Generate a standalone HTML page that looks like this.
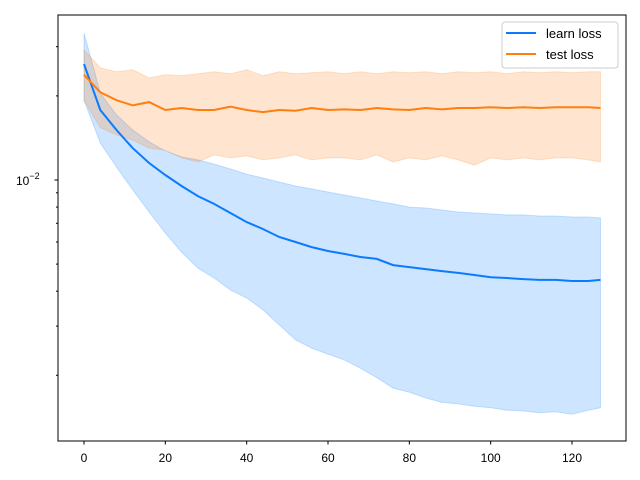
<!DOCTYPE html>
<html><head><meta charset="utf-8"><style>
body{margin:0;background:#fff}
svg{display:block;font-family:"Liberation Sans","DejaVu Sans",sans-serif}
</style></head><body>
<svg id="chart" width="640" height="480" viewBox="0 0 640 480">
<rect x="0" y="0" width="640" height="480" fill="#fff"/>
<g id="plot"></g>
<rect x="58" y="15" width="568" height="426" fill="none" stroke="#000" stroke-width="1"/>
<g id="axes"></g>
<g>
<rect x="502" y="22" width="116" height="46" rx="3" fill="#fff" fill-opacity="0.8" stroke="#ccc"/>
<line x1="506" y1="33" x2="536" y2="33" stroke="#0a7bff" stroke-width="2"/>
<text x="546" y="38" font-size="13">learn loss</text>
<line x1="506" y1="54" x2="536" y2="54" stroke="#ff7f0e" stroke-width="2"/>
<text x="546" y="59" font-size="13">test loss</text>
</g>
</svg>
<script>
const epochs=[0,4,8,12,16,20,24,28,32,36,40,44,48,52,56,60,64,68,72,76,80,84,88,92,96,100,104,108,112,116,120,124,127];
const learnMean=[2.60,1.78,1.51,1.30,1.15,1.042,0.952,0.876,0.821,0.762,0.707,0.668,0.625,0.600,0.575,0.557,0.544,0.530,0.522,0.496,0.488,0.480,0.472,0.465,0.457,0.449,0.446,0.442,0.439,0.439,0.435,0.435,0.439];
const learnUpper=[3.36,2.05,1.71,1.51,1.37,1.27,1.21,1.18,1.14,1.095,1.05,1.017,0.984,0.952,0.929,0.906,0.884,0.862,0.841,0.821,0.800,0.794,0.781,0.768,0.762,0.756,0.750,0.750,0.743,0.743,0.737,0.737,0.731];
const learnLower=[1.93,1.356,1.113,0.921,0.768,0.646,0.552,0.484,0.446,0.404,0.378,0.343,0.303,0.268,0.250,0.238,0.227,0.212,0.196,0.180,0.174,0.166,0.160,0.158,0.155,0.153,0.150,0.149,0.147,0.148,0.145,0.150,0.153];
const testMean=[2.38,2.06,1.93,1.85,1.90,1.78,1.81,1.78,1.78,1.83,1.78,1.75,1.78,1.77,1.81,1.78,1.79,1.78,1.81,1.79,1.78,1.81,1.79,1.81,1.81,1.82,1.81,1.82,1.81,1.82,1.82,1.82,1.81];
const testUpper=[2.92,2.52,2.44,2.48,2.32,2.38,2.36,2.40,2.44,2.40,2.48,2.36,2.44,2.40,2.42,2.44,2.40,2.44,2.40,2.44,2.42,2.44,2.40,2.44,2.42,2.44,2.40,2.44,2.42,2.44,2.42,2.44,2.44];
const testLower=[1.93,1.54,1.45,1.39,1.30,1.28,1.20,1.16,1.23,1.20,1.22,1.18,1.20,1.23,1.18,1.20,1.20,1.18,1.23,1.16,1.20,1.18,1.22,1.18,1.13,1.20,1.18,1.20,1.18,1.20,1.20,1.18,1.16];
const xTicks=[0,20,40,60,80,100,120];
const valueScale=1e-2;

const NS="http://www.w3.org/2000/svg";
function xs(v){return 84+v*(488/120);}
function ys(v){return 180-(Math.log10(v*valueScale)+2)*279.4;}
function mk(tag,attrs,parent){const e=document.createElementNS(NS,tag);for(const k in attrs)e.setAttribute(k,attrs[k]);parent.appendChild(e);return e;}
const plot=document.getElementById('plot'),axes=document.getElementById('axes');
function band(up,lo,color,name){
  let d='M'+epochs.map((e,i)=>xs(e).toFixed(1)+','+ys(up[i]).toFixed(1)).join('L');
  for(let i=epochs.length-1;i>=0;i--)d+='L'+xs(epochs[i]).toFixed(1)+','+ys(lo[i]).toFixed(1);
  const p=mk('path',{d:d+'Z',fill:color,'fill-opacity':0.2,stroke:color,'stroke-opacity':0.2},plot);
  
  
}
function line(vals,color,name){
  const p=mk('path',{d:'M'+epochs.map((e,i)=>xs(e).toFixed(1)+','+ys(vals[i]).toFixed(1)).join('L'),fill:'none',stroke:color,'stroke-width':2},plot);
  
  
}
band(learnUpper,learnLower,'#0a7bff','learn-loss-band');
band(testUpper,testLower,'#ff7f0e','test-loss-band');
line(learnMean,'#0a7bff','learn-loss-line');
line(testMean,'#ff7f0e','test-loss-line');
xTicks.forEach(t=>{
  const l=mk('line',{x1:xs(t),x2:xs(t),y1:441,y2:444.5,stroke:'#000'},axes);
  
  
  const tx=mk('text',{x:xs(t),y:462,'font-size':12,'text-anchor':'middle'},axes);
  tx.textContent=t;
  
  
});
[2,3,4,5,6,7,8,9,20,30].forEach(m=>{
  const y=ys(m*0.1);
  if(y<15||y>441)return;
  const l=mk('line',{x1:56,x2:58,y1:y,y2:y,stroke:'#000'},axes);
  
  
});
const mj=mk('line',{x1:54.5,x2:58,y1:ys(1),y2:ys(1),stroke:'#000'},axes);


const yl=mk('text',{x:16,y:ys(1)+5,'font-size':12},axes);
yl.innerHTML='10<tspan dy="-6" font-size="9">−2</tspan>';


</script>
</body></html>
